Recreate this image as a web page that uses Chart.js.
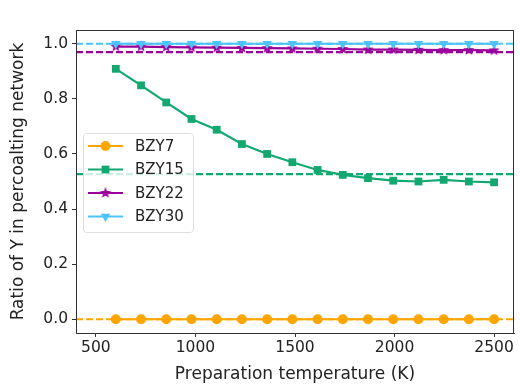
<!DOCTYPE html>
<html>
<head>
<meta charset="utf-8">
<script src="https://cdn.jsdelivr.net/npm/chart.js@4/dist/chart.umd.min.js"></script>
<style>
  html, body { margin: 0; padding: 0; background: #fff; }
  #wrap { width: 520px; height: 385px; }
</style>
</head>
<body>
<div id="wrap"><canvas id="chart" width="520" height="385"></canvas></div>
<script>
// data
const temps = [600, 726.7, 853.3, 980, 1106.7, 1233.3, 1360, 1486.7, 1613.3, 1740, 1866.7, 1993.3, 2120, 2246.7, 2373.3, 2500];
const bzy7 = [0, 0, 0, 0, 0, 0, 0, 0, 0, 0, 0, 0, 0, 0, 0, 0];
const bzy15 = [0.909, 0.849, 0.787, 0.727, 0.688, 0.636, 0.600, 0.570, 0.542, 0.524, 0.512, 0.503, 0.500, 0.506, 0.500, 0.497];
const bzy22 = [0.990, 0.990, 0.988, 0.987, 0.986, 0.985, 0.984, 0.983, 0.982, 0.981, 0.979, 0.979, 0.978, 0.977, 0.977, 0.976];
const bzy30 = [1.0, 1.0, 1.0, 1.0, 1.0, 1.0, 1.0, 1.0, 1.0, 1.0, 1.0, 1.0, 1.0, 1.0, 1.0, 1.0];
const refLevels = [0.0, 0.527, 0.970, 1.0]; // dashed reference lines
const names = ['BZY7', 'BZY15', 'BZY22', 'BZY30'];
const colors = ['#FFA500', '#12A870', '#990099', '#4CC3FA'];
const xTicks = [500, 1000, 1500, 2000, 2500];
const yTicks = [0.0, 0.2, 0.4, 0.6, 0.8, 1.0];
const xMin = 400, xMax = 2600;

// filled star marker like matplotlib '*'
function starImage(color, r) {
    const c = document.createElement('canvas');
    c.width = c.height = r * 2 + 2;
    const g = c.getContext('2d');
    g.fillStyle = color;
    g.beginPath();
    for (let i = 0; i < 10; i++) {
        const rad = i % 2 === 0 ? r : r * 0.42;
        const a = -Math.PI / 2 + i * Math.PI / 5;
        const px = r + 1 + rad * Math.cos(a), py = r + 1 + rad * Math.sin(a);
        if (i === 0) g.moveTo(px, py); else g.lineTo(px, py);
    }
    g.closePath();
    g.fill();
    return c;
}
const star = starImage(colors[2], 6);

const series = [bzy7, bzy15, bzy22, bzy30];
const markers = [
    { pointStyle: 'circle', pointRadius: 5, pointRotation: 0 },
    { pointStyle: 'rect', pointRadius: 5.5, pointRotation: 0 },
    { pointStyle: star, pointRadius: 6, pointRotation: 0 },
    { pointStyle: 'triangle', pointRadius: 5.5, pointRotation: 180 }
];

const datasets = [];
series.forEach((vals, i) => {
    datasets.push({
        label: names[i],
        data: temps.map((t, k) => ({ x: t, y: vals[k] })),
        borderColor: colors[i],
        backgroundColor: colors[i],
        borderWidth: 2.2,
        pointStyle: markers[i].pointStyle,
        pointRadius: markers[i].pointRadius,
        pointRotation: markers[i].pointRotation,
        pointBorderWidth: 0,
        tension: 0,
        order: 8 - i * 2
    });
    datasets.push({
        label: names[i] + ' ref',
        data: [{ x: xMin, y: refLevels[i] }, { x: xMax, y: refLevels[i] }],
        borderColor: colors[i],
        borderWidth: 2.2,
        borderDash: [7, 3],
        pointRadius: 0,
        order: 7 - i * 2
    });
});

// box around the plot area
const frame = {
    id: 'frame',
    afterDatasetsDraw(chart) {
        const a = chart.chartArea, ctx = chart.ctx;
        ctx.save();
        ctx.strokeStyle = '#333';
        ctx.lineWidth = 1;
        ctx.strokeRect(a.left + 0.5, a.top + 0.5, a.right - a.left - 1, a.bottom - a.top);
        ctx.restore();
    }
};

// matplotlib style legend: line with marker
const mplLegend = {
    id: 'mplLegend',
    afterDraw(chart) {
        const a = chart.chartArea, ctx = chart.ctx;
        const x0 = a.left + 7, y0 = a.top + 103, w = 110, h = 99;
        ctx.save();
        ctx.fillStyle = 'rgba(255,255,255,0.8)';
        ctx.strokeStyle = '#dddddd';
        ctx.lineWidth = 1;
        ctx.beginPath();
        ctx.roundRect(x0 + 0.5, y0 + 0.5, w, h, 3);
        ctx.fill();
        ctx.stroke();
        ctx.font = '15px "DejaVu Sans"';
        ctx.textBaseline = 'middle';
        names.forEach((n, i) => {
            const y = y0 + 13 + i * 23.5;
            ctx.strokeStyle = colors[i];
            ctx.lineWidth = 2.2;
            ctx.beginPath();
            ctx.moveTo(x0 + 5, y);
            ctx.lineTo(x0 + 40, y);
            ctx.stroke();
            ctx.fillStyle = colors[i];
            Chart.helpers.drawPoint(ctx, {
                pointStyle: markers[i].pointStyle,
                radius: markers[i].pointRadius,
                rotation: markers[i].pointRotation,
                borderWidth: 0
            }, x0 + 22.5, y);
            ctx.fillStyle = '#222';
            ctx.fillText(n, x0 + 52, y + 1);
        });
        ctx.restore();
    }
};

new Chart(document.getElementById('chart'), {
    type: 'line',
    data: { datasets: datasets },
    plugins: [frame, mplLegend],
    options: {
        responsive: false,
        animation: false,
        layout: { padding: { top: 30, right: 6, left: 0, bottom: 0 } },
        plugins: { legend: { display: false }, tooltip: { enabled: false } },
        scales: {
            x: {
                type: 'linear',
                min: xMin,
                max: xMax,
                afterBuildTicks(axis) { axis.ticks = xTicks.map(v => ({ value: v })); },
                afterFit(axis) { axis.height = 52; },
                grid: { display: true, drawOnChartArea: false, tickLength: 4, color: '#333' },
                border: { color: '#333' },
                ticks: { color: '#222', font: { family: 'DejaVu Sans', size: 15.5 }, padding: 2, maxRotation: 0, callback: v => String(v) },
                title: { display: true, text: 'Preparation temperature (K)', color: '#222', font: { family: 'DejaVu Sans', size: 17 }, padding: { top: 0, bottom: 0 } }
            },
            y: {
                min: -0.05,
                max: 1.05,
                afterBuildTicks(axis) { axis.ticks = yTicks.map(v => ({ value: v })); },
                afterFit(axis) { axis.width = 76; },
                grid: { display: true, drawOnChartArea: false, tickLength: 4, color: '#333' },
                border: { color: '#333' },
                ticks: { color: '#222', font: { family: 'DejaVu Sans', size: 15.5 }, padding: 4, callback: v => v.toFixed(1) },
                title: { display: true, text: 'Ratio of Y in percoalting network', color: '#222', font: { family: 'DejaVu Sans', size: 17 }, padding: { top: 8, bottom: 0 } }
            }
        }
    }
});
</script>
</body>
</html>
